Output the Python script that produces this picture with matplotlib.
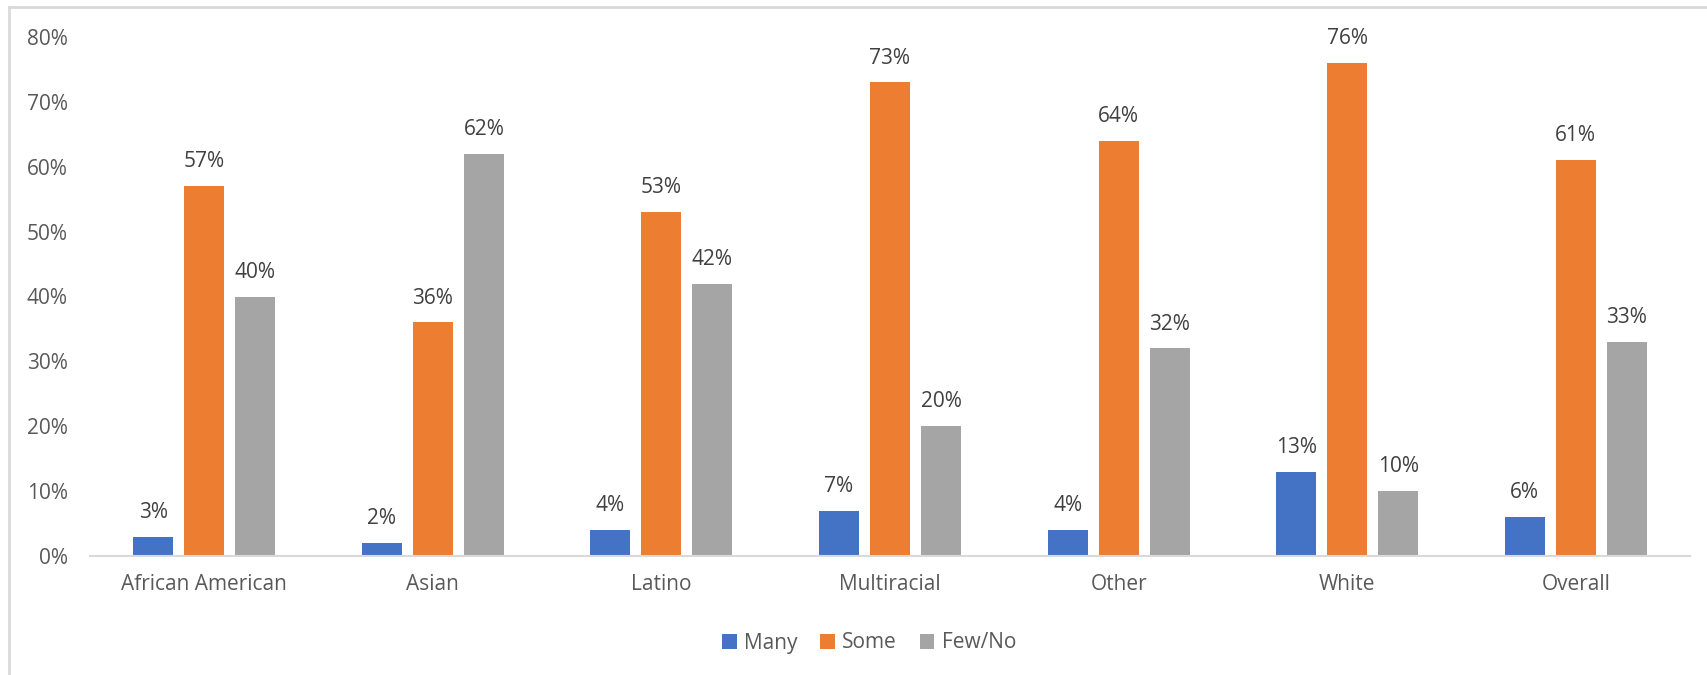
import matplotlib
matplotlib.use("Agg")
import matplotlib.pyplot as plt
from matplotlib.patches import Patch
from matplotlib.lines import Line2D
import numpy as np

plt.rcParams['font.family'] = ['Open Sans', 'DejaVu Sans']

categories = ["African American", "Asian", "Latino", "Multiracial", "Other", "White", "Overall"]
series_names = ["Many", "Some", "Few/No"]
many = [3, 2, 4, 7, 4, 13, 6]
some = [57, 36, 53, 73, 64, 76, 61]
few_no = [40, 62, 42, 20, 32, 10, 33]
y_ticks = [0, 10, 20, 30, 40, 50, 60, 70, 80]

colors = ["#4472C4", "#ED7D31", "#A5A5A5"]
text_color = "#595959"
label_color = "#404040"
line_color = "#D9D9D9"

fig = plt.figure(figsize=(17.07, 6.75), dpi=100)
ax = fig.add_axes([90 / 1707, 1 - 556 / 675, 1600 / 1707, 519 / 675])

x = np.arange(len(categories))
width = 0.175
step = 0.223
fs = 15

for i, (vals, col) in enumerate(zip([many, some, few_no], colors)):
    pos = x + (i - 1) * step
    ax.bar(pos, vals, width=width, color=col, zorder=2)
    for xp, v in zip(pos, vals):
        ax.annotate(f"{v}%", (xp, v), xytext=(0, 17.5), textcoords="offset points",
                    ha="center", va="center", fontsize=fs, color=label_color)

ax.set_xlim(-0.5, len(categories) - 0.5)
ax.set_ylim(0, 80)
ax.set_yticks(y_ticks)
ax.set_yticklabels([f"{t}%" for t in y_ticks])
ax.set_xticks(x)
ax.set_xticklabels(categories)

for side in ["top", "right", "left"]:
    ax.spines[side].set_visible(False)
ax.spines["bottom"].set_color(line_color)
ax.spines["bottom"].set_linewidth(1.5)
ax.tick_params(axis="both", length=0, labelsize=fs, colors=text_color)
ax.tick_params(axis="y", pad=16)
ax.tick_params(axis="x", pad=13)

handles = [Patch(facecolor=c, edgecolor="none") for c in colors]
fig.legend(handles, series_names, loc="center", bbox_to_anchor=(869 / 1707, 1 - 643 / 675),
           ncol=3, frameon=False, fontsize=fs, handlelength=0.7, handleheight=0.7,
           handletextpad=0.35, columnspacing=1.1, labelcolor=text_color)

# chart frame edges along the top and left
fig.add_artist(Line2D([9 / 1707, 1], [1 - 7 / 675, 1 - 7 / 675], color=line_color, lw=2,
                      transform=fig.transFigure))
fig.add_artist(Line2D([9 / 1707, 9 / 1707], [0, 1 - 7 / 675], color=line_color, lw=2,
                      transform=fig.transFigure))

fig.savefig("out.png", dpi=100)
